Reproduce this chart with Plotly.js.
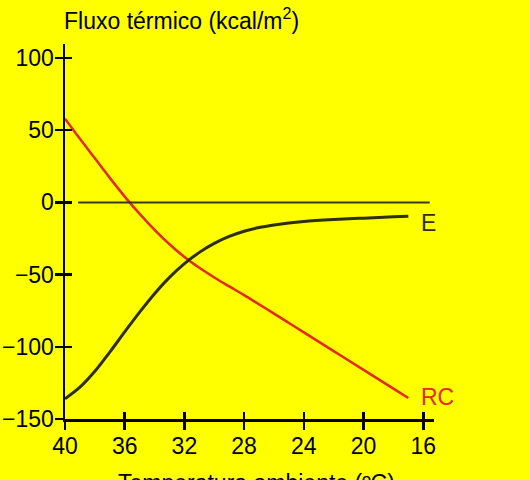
<!DOCTYPE html>
<html>
<head>
<meta charset="utf-8">
<script src="https://cdn.plot.ly/plotly-3.0.1.min.js"></script>
<style>
  html, body { margin: 0; padding: 0; background: #ffff00; }
  #chart { width: 530px; height: 480px; }
</style>
</head>
<body>
<div id="chart"></div>
<script>
// temperatura ambiente (ºC)
const temp = [40, 39, 38, 37, 36, 35, 34, 33, 32, 31, 30, 29, 28, 27, 26, 25, 24, 22, 20, 18, 17];
// fluxo RC (kcal/m2)
const rc = [58, 44, 30.5, 17, 4, -8, -19, -29, -37.8, -45.3, -52, -58.2, -64.2, -70.6, -77, -83.5, -90, -103, -116, -129, -135.5];
// fluxo E (kcal/m2)
const ev = [-136, -128, -117, -103.7, -89.7, -76, -63.2, -51.9, -42.4, -34.6, -28.4, -23.6, -20, -17.4, -15.6, -14.2, -13.2, -11.9, -10.9, -10, -9.6];

const xTicks = [40, 36, 32, 28, 24, 20, 16];
const yTicks = [100, 50, 0, -50, -100, -150];

const fam = "Liberation Sans, Arial, sans-serif";
const font = { family: fam, size: 23, color: "#000" };
const xRange = [40, 15.28];
const yRange = [-150, 109.7];

const traces = [
  {
    x: temp, y: rc, type: "scatter", mode: "lines",
    line: { color: "#e8271b", width: 2.5, shape: "spline", smoothing: 1 },
    hoverinfo: "skip"
  },
  {
    x: temp, y: ev, type: "scatter", mode: "lines",
    line: { color: "#2e2e10", width: 3, shape: "spline", smoothing: 1 },
    hoverinfo: "skip"
  },
  {
    // carries the second axis pair (inner half of the ticks)
    x: temp, y: ev, xaxis: "x2", yaxis: "y2", type: "scatter", mode: "lines",
    line: { width: 0 }, opacity: 0, hoverinfo: "skip"
  }
];

const layout = {
  width: 530,
  height: 480,
  margin: { l: 65, r: 96, t: 44, b: 61 },
  paper_bgcolor: "#ffff00",
  plot_bgcolor: "#ffff00",
  showlegend: false,
  font: font,
  xaxis: {
    range: xRange, tickvals: xTicks, ticks: "outside", ticklen: 8, tickwidth: 2.5,
    tickcolor: "#000", showline: true, linecolor: "#000", linewidth: 2.5,
    showgrid: false, zeroline: false, tickfont: font, ticklabelstandoff: -3
  },
  yaxis: {
    range: yRange, tickvals: yTicks, ticks: "outside", ticklen: 8, tickwidth: 2.5,
    tickcolor: "#000", showline: true, linecolor: "#000", linewidth: 2.5,
    showgrid: false, zeroline: false, tickfont: font, ticklabelstandoff: -4
  },
  xaxis2: {
    overlaying: "x", anchor: "y2", range: xRange, tickvals: xTicks, ticks: "inside",
    ticklen: 7, tickwidth: 2.5, tickcolor: "#000", showticklabels: false,
    showline: false, showgrid: false, zeroline: false
  },
  yaxis2: {
    overlaying: "y", anchor: "x2", range: yRange, tickvals: yTicks, ticks: "inside",
    ticklen: 7, tickwidth: 2.5, tickcolor: "#000", showticklabels: false,
    showline: false, showgrid: false, zeroline: false
  },
  shapes: [
    { type: "line", xref: "x", yref: "y", x0: 39.12, x1: 15.57, y0: 0, y1: 0,
      line: { color: "#3a3a14", width: 2 } }
  ],
  annotations: [
    { text: "Fluxo térmico (kcal/m<sup>2</sup>)", xref: "paper", yref: "paper",
      x: 0, y: 1, xanchor: "left", yanchor: "middle", yshift: 25, xshift: -3,
      showarrow: false, font: { family: fam, size: 23, color: "#000" } },
    { text: "Temperatura ambiente (ºC)", xref: "paper", yref: "paper",
      x: 0.52, y: 0, xanchor: "center", yanchor: "top", yshift: -49,
      showarrow: false, font: { family: fam, size: 23, color: "#000" } },
    { text: "E", xref: "x", yref: "y", x: temp[temp.length - 1], y: ev[ev.length - 1],
      xanchor: "left", yanchor: "middle", xshift: 11, yshift: -7,
      showarrow: false, font: { family: fam, size: 23, color: "#2e2e10" } },
    { text: "RC", xref: "x", yref: "y", x: temp[temp.length - 1], y: rc[rc.length - 1],
      xanchor: "left", yanchor: "middle", xshift: 11, yshift: 1,
      showarrow: false, font: { family: fam, size: 23, color: "#e8271b" } }
  ]
};

Plotly.newPlot("chart", traces, layout, { staticPlot: true });
</script>
</body>
</html>
